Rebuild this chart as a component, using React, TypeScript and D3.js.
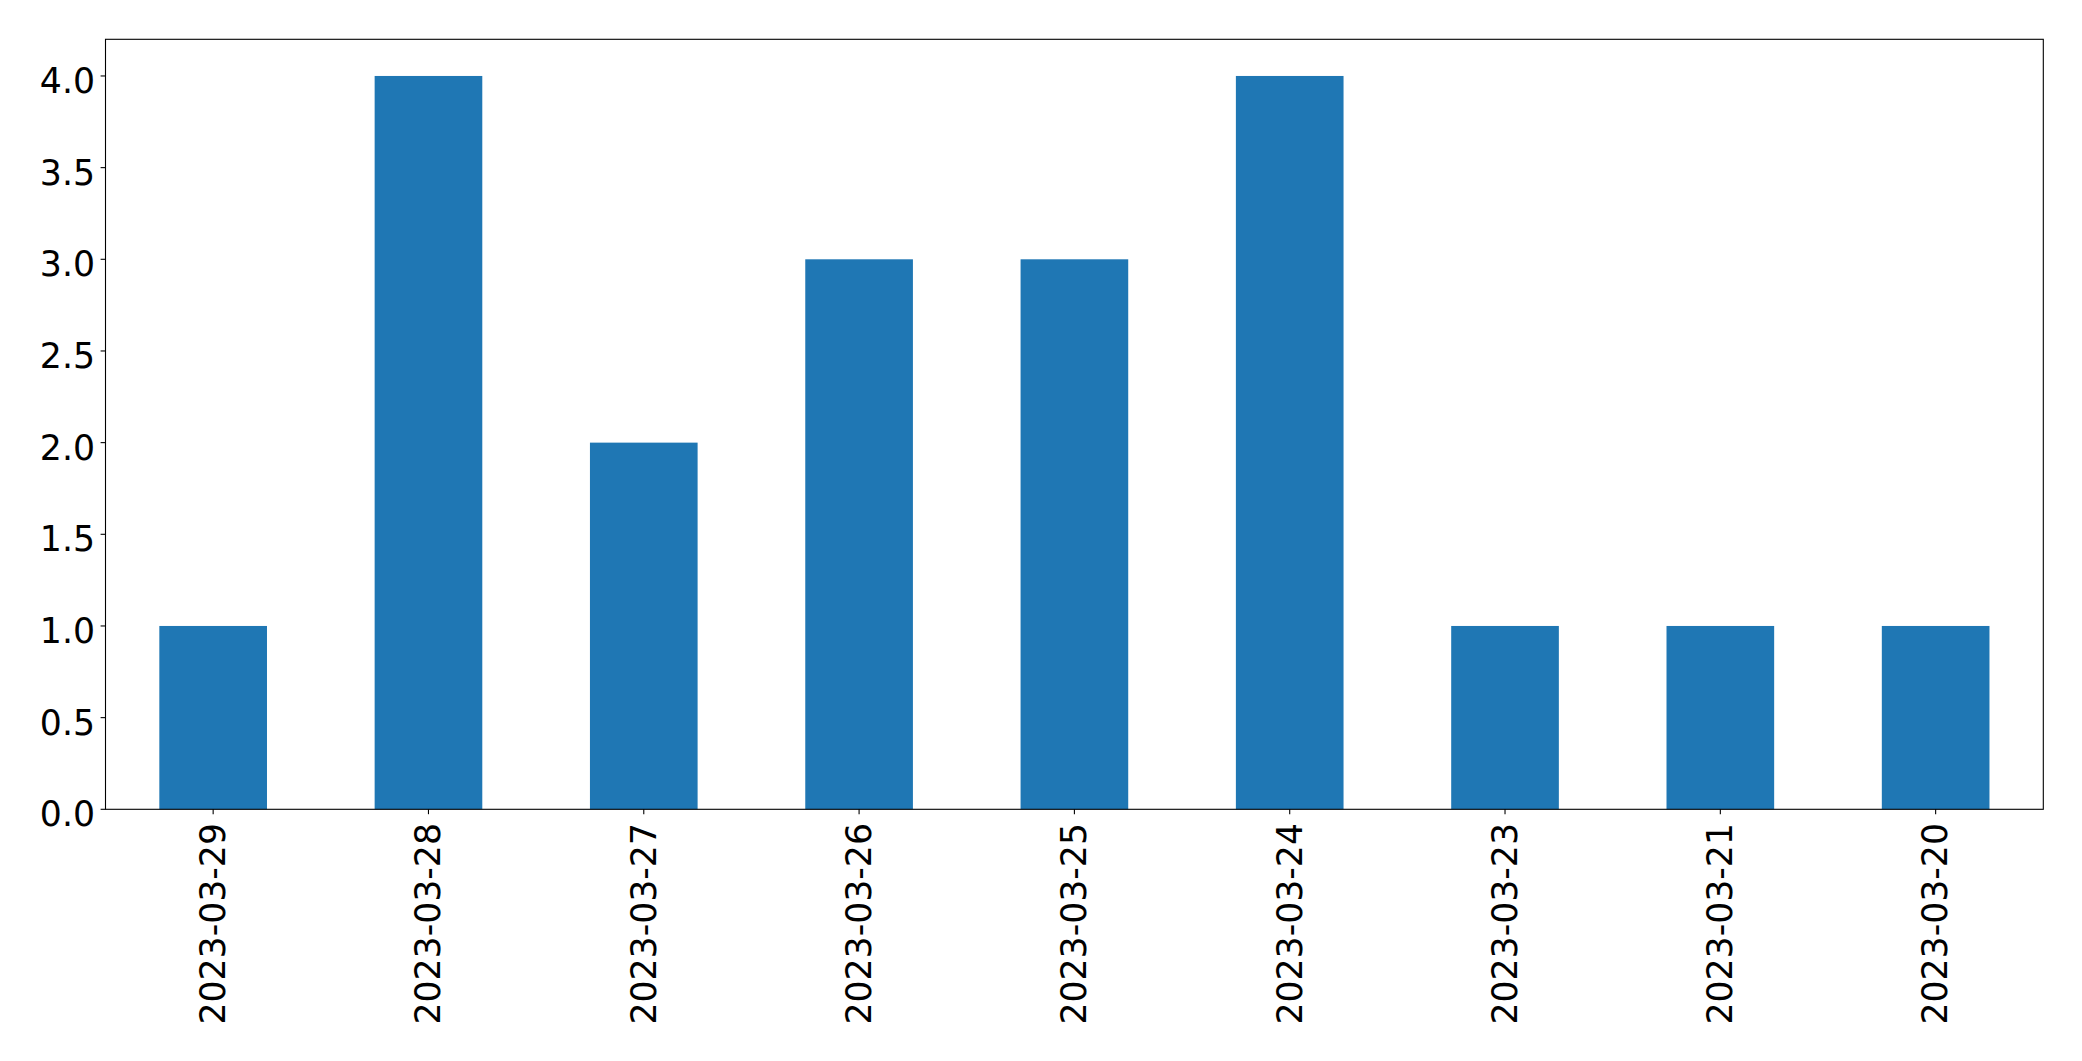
import React from "react";
import * as d3 from "d3";

const categories = [
  "2023-03-29", "2023-03-28", "2023-03-27", "2023-03-26", "2023-03-25",
  "2023-03-24", "2023-03-23", "2023-03-21", "2023-03-20",
];
const values = [1, 4, 2, 3, 3, 4, 1, 1, 1];
const yTicks = [0, 0.5, 1, 1.5, 2, 2.5, 3, 3.5, 4];

const W = 2082;
const H = 1061;
const L = 105.5, R = 2043.3, T = 39.3, B = 809.3;
const FONT = "'DejaVu Sans', sans-serif";
const FS = 34.7;

export default function App() {
  const x = d3.scaleBand<string>().domain(categories).range([L, R]).paddingInner(0.5).paddingOuter(0.25);
  const y = d3.scaleLinear().domain([0, 4.2]).range([B, T]);
  const fmt = d3.format(".1f");
  return (
    <svg width={W} height={H} style={{ position: "absolute", left: 0, top: 0, background: "#fff" }}>
      {categories.map((c, i) => (
        <rect key={c} x={x(c)} y={y(values[i])} width={x.bandwidth()} height={B - y(values[i])} fill="#1f77b4" />
      ))}
      <rect x={L} y={T} width={R - L} height={B - T} fill="none" stroke="#000" strokeWidth={1.1} />
      {yTicks.map((t) => (
        <g key={t}>
          <line x1={L - 4.9} x2={L} y1={y(t)} y2={y(t)} stroke="#000" strokeWidth={1.1} />
          <text x={95} y={y(t) + 17} textAnchor="end" fontFamily={FONT} fontSize={FS} fill="#000">{fmt(t)}</text>
        </g>
      ))}
      {categories.map((c) => {
        const cx = (x(c) as number) + x.bandwidth() / 2;
        return (
          <g key={c}>
            <line x1={cx} x2={cx} y1={B} y2={B + 4.9} stroke="#000" strokeWidth={1.1} />
            <text transform={`translate(${cx},823) rotate(-90)`} dy="0.34em" textAnchor="end" fontFamily={FONT} fontSize={FS} fill="#000">{c}</text>
          </g>
        );
      })}
    </svg>
  );
}
